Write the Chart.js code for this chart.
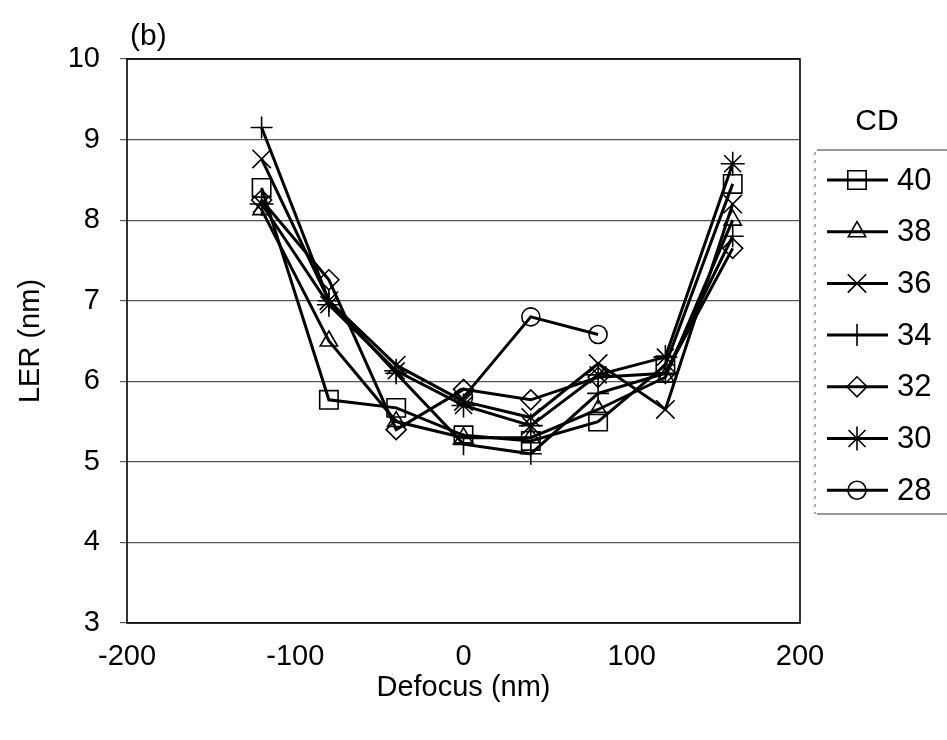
<!DOCTYPE html>
<html>
<head>
<meta charset="utf-8">
<script src="https://cdn.jsdelivr.net/npm/chart.js@4.4.1/dist/chart.umd.min.js"></script>
<style>
    html, body { margin: 0; padding: 0; background: #fff; }
    #wrap { width: 947px; height: 740px; position: relative; }
</style>
</head>
<body>
<div id="wrap"><canvas id="ler_chart"></canvas></div>
<script>
// values (LER in nm per defocus step)
const defocus = [-120, -80, -40, 0, 40, 80, 120, 160];
const cd40 = [8.40, 5.77, 5.67, 5.33, 5.26, 5.50, 6.20, 8.45];
const cd38 = [8.13, 6.50, 5.50, 5.30, 5.30, 5.65, 6.05, 8.00];
const cd36 = [8.76, 7.00, 6.20, 5.75, 5.55, 6.22, 5.65, 8.20];
const cd34 = [9.15, 7.00, 6.10, 5.22, 5.10, 5.85, 6.10, 7.80];
const cd32 = [8.25, 7.26, 5.40, 5.90, 5.77, 6.05, 6.10, 7.65];
const cd30 = [8.20, 6.95, 6.13, 5.70, 5.45, 6.08, 6.30, 8.70];
const cd28 = [null, null, null, 5.80, 6.80, 6.58, null, null];

const series_labels = ['40', '38', '36', '34', '32', '30', '28'];
const series_values = [cd40, cd38, cd36, cd34, cd32, cd30, cd28];
const point_styles = ['rect', 'triangle', 'crossRot', 'cross', 'rectRot', 'star', 'circle'];
const point_sizes = [13, 10, 13, 11, 10, 12, 9];

const x_ticks = [-200, -100, 0, 100, 200];
const y_ticks = [3, 4, 5, 6, 7, 8, 9, 10];

const font_family = "'Liberation Sans', Arial, sans-serif";

function build_datasets() {
    let datasets = [];
    series_values.forEach((values, i) => {
        datasets.push({
            label: series_labels[i],
            data: defocus.map((x, j) => ({ x: x, y: values[j] })),
            borderColor: '#000',
            borderWidth: 3,
            pointStyle: point_styles[i],
            pointRadius: point_sizes[i],
            pointBorderWidth: 1.6,
            pointBorderColor: '#000',
            pointBackgroundColor: 'rgba(0,0,0,0)',
            tension: 0,
            spanGaps: false
        });
    });
    return datasets;
}

const figure_extras = {
    id: 'figure_extras',
    beforeDatasetsDraw(chart) {
        const ctx = chart.ctx;
        const a = chart.chartArea;
        ctx.save();
        ctx.strokeStyle = '#000';
        ctx.lineWidth = 1.6;
        ctx.strokeRect(a.left, a.top, a.right - a.left, a.bottom - a.top);
        ctx.restore();
    },
    afterDraw(chart) {
        const ctx = chart.ctx;
        ctx.save();
        ctx.fillStyle = '#000';
        ctx.textBaseline = 'middle';

        // panel label
        ctx.font = `30px ${font_family}`;
        ctx.textAlign = 'left';
        ctx.fillText('(b)', 130, 37);

        // legend
        ctx.textAlign = 'center';
        ctx.fillText('CD', 877, 122);

        ctx.strokeStyle = '#333';
        ctx.lineWidth = 1.2;
        ctx.beginPath();
        ctx.moveTo(817, 150);
        ctx.lineTo(947, 150);
        ctx.moveTo(817, 514);
        ctx.lineTo(947, 514);
        ctx.stroke();
        ctx.setLineDash([3, 5]);
        ctx.strokeStyle = '#777';
        ctx.beginPath();
        ctx.moveTo(815, 152);
        ctx.lineTo(815, 514);
        ctx.stroke();
        ctx.setLineDash([]);

        ctx.font = `31px ${font_family}`;
        ctx.textAlign = 'left';
        chart.data.datasets.forEach((ds, i) => {
            const y = 180 + i * 51.7;
            ctx.strokeStyle = '#000';
            ctx.lineWidth = 3;
            ctx.beginPath();
            ctx.moveTo(827, y);
            ctx.lineTo(888, y);
            ctx.stroke();
            ctx.lineWidth = 1.6;
            ctx.fillStyle = 'rgba(0,0,0,0)';
            Chart.helpers.drawPoint(ctx, {
                pointStyle: ds.pointStyle,
                radius: ds.pointRadius,
                rotation: 0,
                borderWidth: 1.6
            }, 857, y);
            ctx.fillStyle = '#000';
            ctx.fillText(ds.label, 897, y + 1);
        });
        ctx.restore();
    }
};

new Chart(document.getElementById('ler_chart'), {
    type: 'line',
    data: { datasets: build_datasets() },
    options: {
        responsive: true,
        maintainAspectRatio: false,
        devicePixelRatio: 1,
        animation: false,
        layout: { padding: { left: 0, right: 147, top: 59, bottom: 35 } },
        plugins: {
            legend: { display: false },
            tooltip: { enabled: false }
        },
        scales: {
            x: {
                type: 'linear',
                min: x_ticks[0],
                max: x_ticks[x_ticks.length - 1],
                afterBuildTicks: (scale) => { scale.ticks = x_ticks.map(v => ({ value: v })); },
                afterFit: (scale) => { scale.height = 82; },
                grid: { display: false, drawTicks: false },
                border: { display: false },
                ticks: { color: '#000', padding: 17, font: { family: font_family, size: 29 } },
                title: {
                    display: true,
                    text: 'Defocus (nm)',
                    color: '#000',
                    padding: { top: 0, bottom: 0 },
                    font: { family: font_family, size: 29 }
                }
            },
            y: {
                min: y_ticks[0],
                max: y_ticks[y_ticks.length - 1],
                afterBuildTicks: (scale) => { scale.ticks = y_ticks.map(v => ({ value: v })); },
                afterFit: (scale) => { scale.width = 127; },
                grid: { color: '#555', lineWidth: 1.2, drawTicks: true, tickLength: 7 },
                border: { display: false },
                ticks: { color: '#000', padding: 20, font: { family: font_family, size: 29 } },
                title: {
                    display: true,
                    text: 'LER (nm)',
                    color: '#000',
                    padding: { top: 14, bottom: 0 },
                    font: { family: font_family, size: 29 }
                }
            }
        }
    },
    plugins: [figure_extras]
});
</script>
</body>
</html>
